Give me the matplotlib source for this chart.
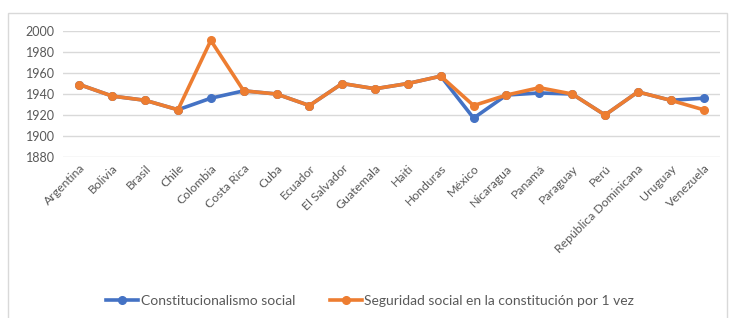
import matplotlib
matplotlib.use("Agg")
import matplotlib.pyplot as plt
from matplotlib.patches import Rectangle

countries = ["Argentina", "Bolivia", "Brasil", "Chile", "Colombia", "Costa Rica", "Cuba",
             "Ecuador", "El Salvador", "Guatemala", "Haiti", "Honduras", "México", "Nicaragua",
             "Panamá", "Paraguay", "Perú", "República Dominicana", "Uruguay", "Venezuela"]
constitucionalismo = [1949, 1938, 1934, 1925, 1936, 1943, 1940, 1929, 1950, 1945,
                      1950, 1957, 1917, 1939, 1941, 1940, 1920, 1942, 1934, 1936]
seguridad = [1949, 1938, 1934, 1925, 1991, 1943, 1940, 1929, 1950, 1945,
             1950, 1957, 1929, 1939, 1946, 1940, 1920, 1942, 1934, 1925]
yticks = [1880, 1900, 1920, 1940, 1960, 1980, 2000]

plt.rcParams["font.family"] = ["Lato", "DejaVu Sans"]
gray = "#595959"

fig = plt.figure(figsize=(7.3, 3.18), dpi=100)
ax = fig.add_axes([63 / 730, 1 - 157 / 318, (720 - 63) / 730, (157 - 31) / 318])

# chart frame
fig.patches.append(Rectangle((8 / 730, -0.01), 719 / 730, 1 - 13 / 318 + 0.01,
                             transform=fig.transFigure, fill=False,
                             edgecolor="#d9d9d9", linewidth=1))

x = range(len(countries))
ax.plot(x, constitucionalismo, color="#4472C4", lw=2.6, marker="o", ms=5.5,
        label="Constitucionalismo social", zorder=3)
ax.plot(x, seguridad, color="#ED7D31", lw=2.6, marker="o", ms=5.5,
        label="Seguridad social en la constitución por 1 vez", zorder=4)

ax.set_xlim(-0.5, len(countries) - 0.5)
ax.set_ylim(1880, 2000)
ax.set_yticks(yticks)
ax.set_yticklabels([str(v) for v in yticks], fontsize=9, color=gray)
ax.set_xticks(list(x))
ax.set_xticklabels(countries, rotation=45, ha="right", rotation_mode="anchor",
                   fontsize=8.8, color=gray)
ax.tick_params(length=0, pad=6)
ax.tick_params(axis="x", pad=4)
ax.grid(axis="y", color="#d9d9d9", lw=1)
ax.set_axisbelow(True)
for s in ax.spines.values():
    s.set_visible(False)

fig.legend(loc="center", bbox_to_anchor=(370 / 730, 1 - 301 / 318), ncol=2, frameon=False,
           fontsize=10, labelcolor=gray, handlelength=2.3, columnspacing=2.5, handletextpad=0.2)

fig.savefig("out.png", dpi=100)
